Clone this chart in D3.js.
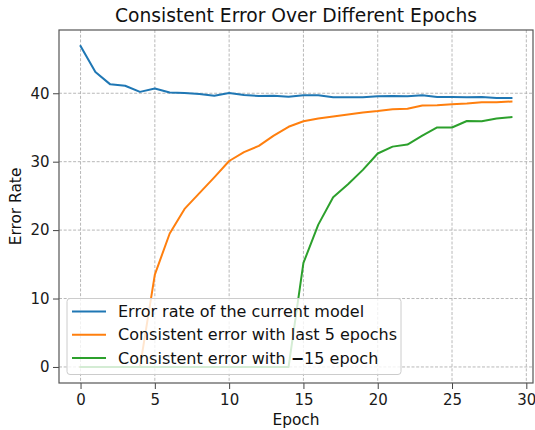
<!DOCTYPE html>
<html><head><meta charset="utf-8">
<script src="https://cdn.jsdelivr.net/npm/d3@7"></script>
<style>body{margin:0;background:#fff}svg{font-family:"DejaVu Sans",sans-serif}</style>
</head><body><svg id="c" width="535" height="430"></svg>
<script>
const epochs = d3.range(0, 30);
const currentError = [46.9,43.1,41.3,41.1,40.2,40.7,40.1,40.05,39.9,39.65,40.05,39.75,39.6,39.65,39.5,39.7,39.7,39.4,39.4,39.4,39.55,39.6,39.55,39.7,39.45,39.45,39.4,39.45,39.3,39.3];
const consistent5 = [0,0,0,0,0,13.5,19.5,23.1,25.4,27.7,30.1,31.4,32.3,33.8,35.1,35.9,36.3,36.6,36.9,37.2,37.4,37.65,37.75,38.2,38.25,38.4,38.5,38.7,38.7,38.8];
const consistent15 = [0,0,0,0,0,0,0,0,0,0,0,0,0,0,0,15.2,20.8,24.8,26.7,28.8,31.2,32.2,32.5,33.8,35.0,35.0,35.95,35.9,36.3,36.5];
const seriesNames = ["Error rate of the current model","Consistent error with last 5 epochs","Consistent error with \u221215 epoch"];
const colors = ["#1f77b4","#ff7f0e","#2ca02c"];
const xTicks = [0,5,10,15,20,25,30];
const yTicks = [0,10,20,30,40];

const svg = d3.select("#c");
const L=59, R=533, T=30, B=383;
const x = d3.scaleLinear().domain([-1.45,30.45]).range([L,R]);
const y = d3.scaleLinear().domain([-2.345,49.245]).range([B,T]);

// grid
const g = svg.append("g");
g.selectAll(".gx").data(xTicks).join("line")
 .attr("x1",d=>x(d)).attr("x2",d=>x(d)).attr("y1",T).attr("y2",B)
 .attr("stroke","#b0b0b0").attr("stroke-width",0.9).attr("stroke-dasharray","3,1.7");
g.selectAll(".gy").data(yTicks).join("line")
 .attr("y1",d=>y(d)).attr("y2",d=>y(d)).attr("x1",L).attr("x2",R)
 .attr("stroke","#b0b0b0").attr("stroke-width",0.9).attr("stroke-dasharray","3,1.7");

// lines
const line = d3.line().x((d,i)=>x(epochs[i])).y(d=>y(d));
[currentError, consistent5, consistent15].forEach((s,i)=>{
  svg.append("path").datum(s).attr("d",line).attr("fill","none")
   .attr("stroke",colors[i]).attr("stroke-width",2).attr("stroke-linejoin","round").attr("stroke-linecap","square");
});

// axes
const xAxis = svg.append("g").attr("transform",`translate(0,${B})`)
 .call(d3.axisBottom(x).tickValues(xTicks).tickSize(6).tickPadding(5).tickFormat(d3.format("d")));
const yAxis = svg.append("g").attr("transform",`translate(${L},0)`)
 .call(d3.axisLeft(y).tickValues(yTicks).tickSize(6).tickPadding(3.5).tickFormat(d3.format("d")));
[xAxis,yAxis].forEach(a=>{
  a.select(".domain").remove();
  a.selectAll("line").attr("stroke","#444").attr("stroke-width",1);
  a.selectAll("text").attr("fill","#1a1a1a").style("font-size","15px").style("font-family","DejaVu Sans");
});
// frame
svg.append("rect").attr("x",L).attr("y",T).attr("width",R-L).attr("height",B-T)
 .attr("fill","none").attr("stroke","#555").attr("stroke-width",1.2);

// labels
svg.append("text").attr("x",(L+R)/2).attr("y",22).attr("text-anchor","middle")
 .style("font-size","18.7px").attr("fill","#111").text("Consistent Error Over Different Epochs");
svg.append("text").attr("x",(L+R)/2).attr("y",425).attr("text-anchor","middle")
 .style("font-size","15.4px").attr("fill","#111").text("Epoch");
svg.append("text").attr("transform",`translate(21,${(T+B)/2}) rotate(-90)`).attr("text-anchor","middle")
 .style("font-size","15.4px").attr("fill","#111").text("Error Rate");

// legend
const lg = svg.append("g");
lg.append("rect").attr("x",67).attr("y",298.5).attr("width",334).attr("height",76).attr("rx",3)
 .attr("fill","#fff").attr("fill-opacity",0.8).attr("stroke","#cccccc").attr("stroke-width",1);
seriesNames.forEach((n,i)=>{
  const cy = 311.5 + i*23.3;
  lg.append("line").attr("x1",72).attr("x2",106).attr("y1",cy).attr("y2",cy)
   .attr("stroke",colors[i]).attr("stroke-width",2);
  const t = lg.append("text").attr("x",118).attr("y",cy+5.5).style("font-size","16px").attr("fill","#111");
  const parts = n.split("\u2212");
  t.append("tspan").text(parts[0]);
  if (parts.length>1){
    t.append("tspan").style("font-weight","bold").text("\u2212");
    t.append("tspan").text(parts[1]);
  }
});
</script></body></html>
